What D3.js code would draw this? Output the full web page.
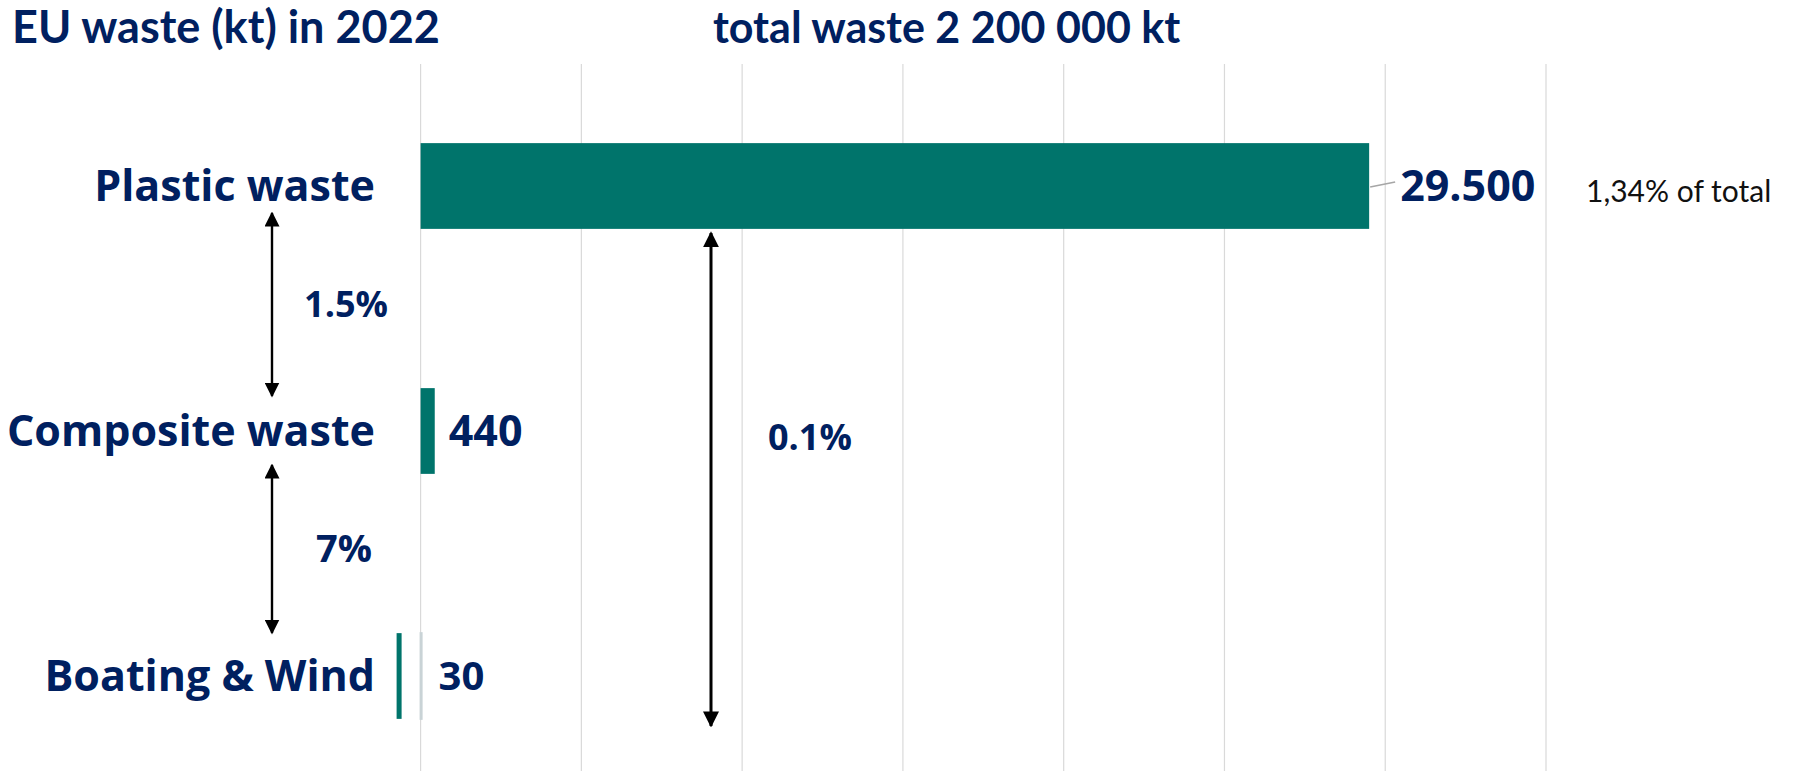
<!DOCTYPE html>
<html>
<head>
<meta charset="utf-8">
<script src="https://cdn.jsdelivr.net/npm/d3@7"></script>
<style>
  body { margin: 0; background: #fff; }
  svg { display: block; }
</style>
</head>
<body>
<svg id="chart" width="1797" height="771"></svg>
<script>
// data (kt)
const categories = ["Plastic waste", "Composite waste", "Boating & Wind"];
const values = [29500, 440, 30];
const valueLabels = ["29.500", "440", "30"];
const gridTicks = [0, 5000, 10000, 15000, 20000, 25000, 30000, 35000];

const titleLeft = "EU waste (kt) in 2022";
const titleRight = "total waste 2 200 000 kt";
const shareNote = "1,34% of total";

// ratio annotations: between which categories, and the text
const ratioFrom = ["Plastic waste", "Composite waste", "Plastic waste"];
const ratioTo = ["Composite waste", "Boating & Wind", "Boating & Wind"];
const ratioText = ["1.5%", "7%", "0.1%"];

const W = 1797, H = 771;
const navy = "#002060";
const teal = "#00746b";

const svg = d3.select("#chart");

const x = d3.scaleLinear().domain([0, 35000]).range([420.6, 1546]);
const y = d3.scaleBand().domain(categories).range([63.5, 798.5])
            .paddingInner(0.65).paddingOuter(0.325);
const cy = c => y(c) + y.bandwidth() / 2;

// gridlines
svg.append("g")
    .selectAll("line")
    .data(gridTicks)
    .join("line")
        .attr("x1", d => x(d)).attr("x2", d => x(d))
        .attr("y1", 64).attr("y2", H)
        .attr("stroke", "#d9d9d9")
        .attr("stroke-width", 1.2);

// titles
svg.append("text")
    .attr("x", 12).attr("y", 43)
    .attr("font-family", "Lato, sans-serif").attr("font-weight", 700)
    .attr("font-size", 45).attr("fill", navy)
    .text(titleLeft);
svg.append("text")
    .attr("x", 713).attr("y", 43)
    .attr("font-family", "Lato, sans-serif").attr("font-weight", 700)
    .attr("font-size", 43).attr("fill", navy)
    .text(titleRight);

// bars
svg.append("g")
    .selectAll("rect")
    .data(categories)
    .join("rect")
        .attr("x", x(0))
        .attr("y", d => y(d))
        .attr("width", (d, i) => Math.max(1, x(values[i]) - x(0)))
        .attr("height", y.bandwidth())
        .attr("fill", teal)
        .attr("stroke", (d, i) => i === 2 ? "#c9d3d6" : "none")
        .attr("stroke-width", 2);

// the tiny boating bar is highlighted by a marker left of the axis
svg.append("rect")
    .attr("x", x(0) - 24)
    .attr("y", y(categories[2]))
    .attr("width", 5)
    .attr("height", y.bandwidth())
    .attr("fill", teal);

// category labels
svg.append("g")
    .selectAll("text")
    .data(categories)
    .join("text")
        .attr("x", 375)
        .attr("y", d => cy(d))
        .attr("dy", "0.35em")
        .attr("text-anchor", "end")
        .attr("font-family", "'Open Sans', sans-serif").attr("font-weight", 700)
        .attr("font-size", 43).attr("fill", navy)
        .text(d => d);

// value labels
const labelGap = [31, 14, 17];
svg.append("g")
    .selectAll("text")
    .data(categories)
    .join("text")
        .attr("x", (d, i) => x(values[i]) + labelGap[i])
        .attr("y", d => cy(d))
        .attr("dy", "0.35em")
        .attr("font-family", "'Open Sans', sans-serif").attr("font-weight", 700)
        .attr("font-size", (d, i) => i === 2 ? 40 : 43).attr("fill", navy)
        .text((d, i) => valueLabels[i]);

// leader from the plastic bar to its label
svg.append("path")
    .attr("d", `M${x(values[0]) + 1},${cy(categories[0]) + 1} L${x(values[0]) + 26},${cy(categories[0]) - 4}`)
    .attr("fill", "none")
    .attr("stroke", "#a6a6a6")
    .attr("stroke-width", 1.5);

svg.append("text")
    .attr("x", 1586).attr("y", cy(categories[0]) + 16)
    .attr("font-family", "Lato, sans-serif")
    .attr("font-size", 30).attr("fill", "#111")
    .text(shareNote);

// double arrows
const defs = svg.append("defs");
function head(id, size) {
    defs.append("marker")
        .attr("id", id)
        .attr("viewBox", "0 0 10 10")
        .attr("refX", 9).attr("refY", 5)
        .attr("markerWidth", size).attr("markerHeight", size)
        .attr("markerUnits", "userSpaceOnUse")
        .attr("orient", "auto-start-reverse")
      .append("path")
        .attr("d", "M0,0 L10,5 L0,10 Z")
        .attr("fill", "#000");
}
head("h-small", 15);
head("h-big", 16);

const arrows = [
    { x: 272, y1: cy(ratioFrom[0]) + 27, y2: cy(ratioTo[0]) - 35, tx: 346, ty: null, anchor: "middle", w: 2.4, m: "h-small" },
    { x: 272, y1: cy(ratioFrom[1]) + 34, y2: cy(ratioTo[1]) - 43, tx: 344, ty: null, anchor: "middle", w: 2.4, m: "h-small" },
    { x: 711, y1: y(ratioFrom[2]) + y.bandwidth() + 4, y2: y(ratioTo[2]) + y.bandwidth() + 7, tx: 768, ty: cy("Composite waste") + 6, anchor: "start", w: 3, m: "h-big" }
];

const ag = svg.append("g");
arrows.forEach((a, i) => {
    ag.append("line")
        .attr("x1", a.x).attr("x2", a.x)
        .attr("y1", a.y1).attr("y2", a.y2)
        .attr("stroke", "#000")
        .attr("stroke-width", a.w)
        .attr("marker-start", `url(#${a.m})`)
        .attr("marker-end", `url(#${a.m})`);
    ag.append("text")
        .attr("x", a.tx)
        .attr("y", a.ty === null ? (a.y1 + a.y2) / 2 : a.ty)
        .attr("dy", "0.35em")
        .attr("text-anchor", a.anchor)
        .attr("font-family", "'Open Sans', sans-serif").attr("font-weight", 700)
        .attr("font-size", i === 1 ? 38 : 36).attr("fill", navy)
        .text(ratioText[i]);
});
</script>
</body>
</html>
